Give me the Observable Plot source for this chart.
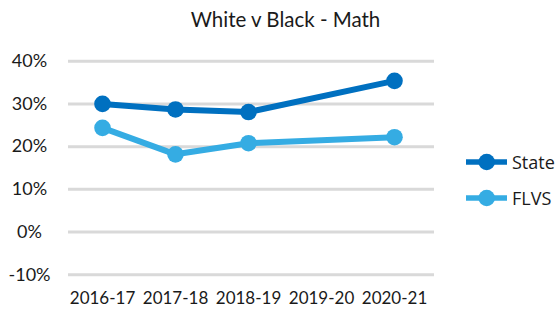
<!DOCTYPE html>
<html>
<head>
<meta charset="utf-8">
<script src="https://cdn.jsdelivr.net/npm/d3@7"></script>
<script src="https://cdn.jsdelivr.net/npm/@observablehq/plot@0.6"></script>
<style>
  html, body { margin: 0; padding: 0; background: #fff; }
  #wrap { position: relative; width: 558px; height: 310px; overflow: hidden; font-family: Lato, sans-serif; color: #1a1a1a; }
  #title { position: absolute; left: 0; width: 558px; top: 9px; padding-left: 13px; box-sizing: border-box; text-align: center; font-size: 20.5px; line-height: 1; white-space: nowrap; }
  #chart { position: absolute; left: 0; top: 36px; }
  #legend { position: absolute; left: 466px; top: 148px; font-family: "Open Sans", sans-serif; font-size: 18px; }
  .item { position: absolute; left: 0; height: 28px; width: 100px; }
  .item svg { position: absolute; left: 0; top: 0; }
  .item span { position: absolute; left: 46px; top: 0; line-height: 28px; white-space: nowrap; }
</style>
</head>
<body>
<div id="wrap">
  <div id="title">White v Black - Math</div>
  <div id="chart"></div>
  <div id="legend"></div>
</div>
<script>
const years = ["2016-17", "2017-18", "2018-19", "2019-20", "2020-21"];
const stateValues = [30.0, 28.7, 28.1, null, 35.4];
const flvsValues = [24.4, 18.2, 20.8, null, 22.2];
const seriesNames = ["State", "FLVS"];
const seriesColors = ["#0070C0", "#35ACE3"];
const yTicks = [-10, 0, 10, 20, 30, 40];

const rows = [];
[stateValues, flvsValues].forEach((vals, s) => {
  vals.forEach((v, i) => {
    if (v != null) rows.push({series: seriesNames[s], year: years[i], value: v});
  });
});

const plot = Plot.plot({
  width: 558,
  height: 274,
  marginLeft: 68,
  marginRight: 124,
  marginTop: 24.7,
  marginBottom: 35.7,
  style: {fontFamily: "Lato, sans-serif", color: "#1a1a1a", background: "transparent"},
  x: {type: "point", domain: years, range: [101, 395], padding: 0},
  y: {domain: [-10, 40]},
  color: {domain: seriesNames, range: seriesColors},
  marks: [
    Plot.gridY(yTicks, {stroke: "#D9D9D9", strokeOpacity: 1, strokeWidth: 3}),
    Plot.axisY(yTicks, {tickSize: 0, tickPadding: 39, textAnchor: "middle", tickFormat: d => d + "%", fontSize: 18, label: null}),
    Plot.axisX({tickSize: 0, tickPadding: 17, fontSize: 17, label: null}),
    Plot.line(rows, {x: "year", y: "value", z: "series", stroke: "series", strokeWidth: 6, strokeLinejoin: "round"}),
    Plot.dot(rows, {x: "year", y: "value", fill: "series", r: 8.3})
  ]
});
document.getElementById("chart").appendChild(plot);

const legend = document.getElementById("legend");
seriesNames.forEach((name, i) => {
  const item = document.createElement("div");
  item.className = "item";
  item.style.top = (i * 36) + "px";
  item.innerHTML = `<svg width="44" height="28"><line x1="0" x2="41" y1="14" y2="14" stroke="${seriesColors[i]}" stroke-width="5.5"/><circle cx="20.7" cy="14" r="8.3" fill="${seriesColors[i]}"/></svg><span>${name}</span>`;
  legend.appendChild(item);
});
</script>
</body>
</html>
